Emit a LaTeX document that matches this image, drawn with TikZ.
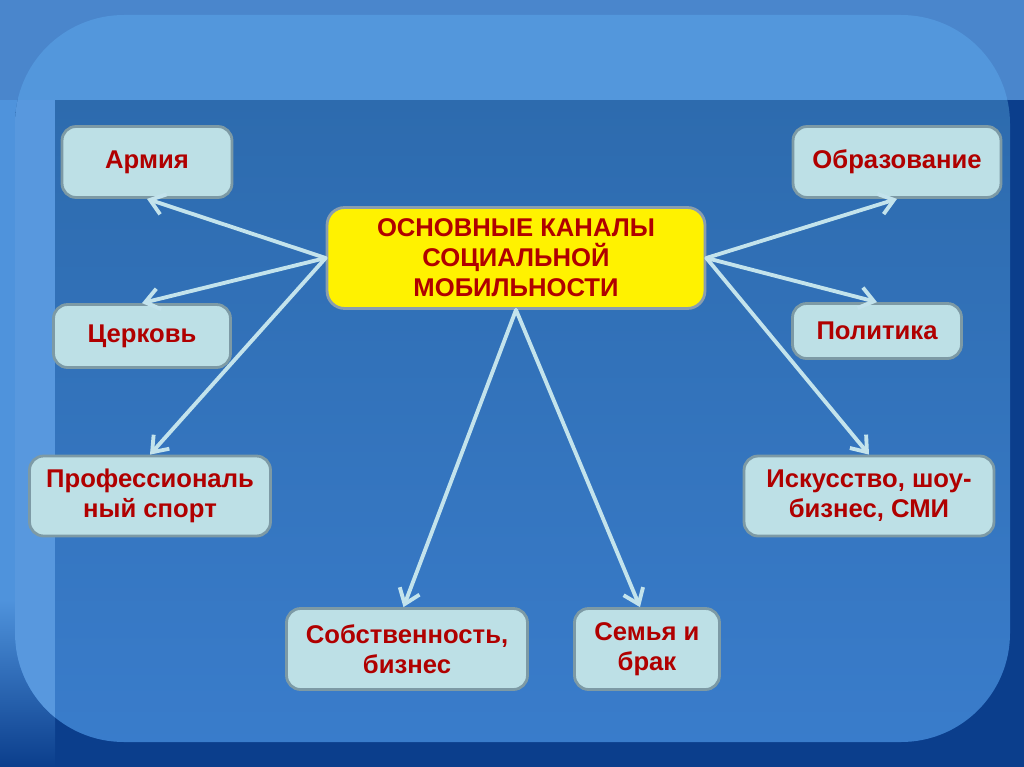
\documentclass[tikz,border=0pt]{standalone}
\usepackage{fontspec}
\setmainfont{Liberation Sans}
\usetikzlibrary{arrows.meta}
\definecolor{slidedark}{HTML}{0B3E8C}
\definecolor{slideband}{HTML}{4A86CC}
\definecolor{slidestrip}{HTML}{4F93DC}
\definecolor{paneltop}{HTML}{5397DC}
\definecolor{panelup}{HTML}{2D6BAE}
\definecolor{paneldown}{HTML}{3A7DCC}
\definecolor{boxfill}{HTML}{BDE0E6}
\definecolor{boxedge}{HTML}{7D9AA5}
\definecolor{hubedge}{HTML}{8A9EAE}
\definecolor{textred}{HTML}{B00000}
\definecolor{arrowcol}{HTML}{C3E3EC}
\tikzstyle{channel} = [rectangle, rounded corners=8pt, draw=boxedge, line width=1.6pt, fill=boxfill, text=textred, align=center, font=\bfseries\fontsize{14.6}{17}\selectfont]
\tikzstyle{hub} = [channel, fill=yellow, draw=hubedge, rounded corners=10pt]
\tikzstyle{arrow} = [line width=2.2pt, draw=arrowcol, line cap=round, -{Straight Barb[length=8pt, width=12pt, line width=2.2pt]}]

\begin{document}
\begin{tikzpicture}[x=0.02cm, y=-0.02cm]
	\useasboundingbox (0,0) rectangle (1024,767);
	
	% slide background
	\fill[slidedark] (0,0) rectangle (1024,767);
	\fill[slideband] (0,0) rectangle (1024,100);
	\shade[top color=slidestrip, bottom color=slidedark] (0,600) rectangle (55,767);
	\fill[slidestrip] (0,100) rectangle (55,600);
	\begin{scope}
		\clip[rounded corners=62pt] (15,742) -- (15,15) -- (1010,15) -- (1010,742) -- cycle;
		\shade[top color=panelup, bottom color=paneldown] (0,100) rectangle (1024,767);
		\fill[paneltop] (0,0) rectangle (1024,100);
		\fill[slidestrip!95!white] (0,100) rectangle (55,767);
	\end{scope}
	
	\node (hub) [hub, minimum width=7.56cm, minimum height=2.02cm] at (516,258) {ОСНОВНЫЕ КАНАЛЫ\\СОЦИАЛЬНОЙ\\МОБИЛЬНОСТИ};
	\node (army) [channel, minimum width=3.4cm, minimum height=1.42cm] at (147,162) {Армия};
	\node (church) [channel, minimum width=3.54cm, minimum height=1.26cm] at (142,336) {Церковь};
	\node (sport) [channel, minimum width=4.82cm, minimum height=1.6cm] at (150,496) {Профессиональ\\ный спорт};
	\node (business) [channel, minimum width=4.82cm, minimum height=1.62cm] at (407,649) {Собственность,\\бизнес};
	\node (family) [channel, minimum width=2.9cm, minimum height=1.62cm] at (647,649) {Семья и\\брак};
	\node (education) [channel, minimum width=4.16cm, minimum height=1.42cm] at (897,162) {Образование};
	\node (politics) [channel, minimum width=3.38cm, minimum height=1.1cm] at (877,331) {Политика};
	\node (arts) [channel, minimum width=5cm, minimum height=1.6cm] at (869,496) {Искусство, шоу-\\бизнес, СМИ};
	
	\draw [arrow] (hub.west) -- (army.south);
	\draw [arrow] (hub.west) -- (church.north);
	\draw [arrow] (hub.west) -- (sport.north);
	\draw [arrow] (hub.south) -- ([xshift=-2pt]business.north);
	\draw [arrow] (hub.south) -- ([xshift=-4pt]family.north);
	\draw [arrow] (hub.east) -- (education.south);
	\draw [arrow] (hub.east) -- (politics.north);
	\draw [arrow] (hub.east) -- (arts.north);
\end{tikzpicture}
\end{document}
